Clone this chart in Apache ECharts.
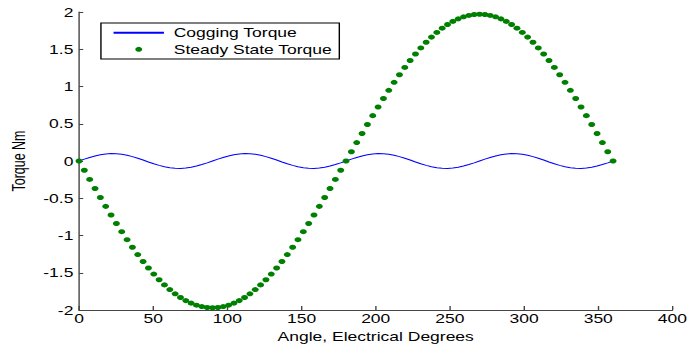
<!DOCTYPE html>
<html>
<head>
<meta charset="utf-8">
<script src="https://cdn.jsdelivr.net/npm/echarts@6/dist/echarts.min.js"></script>
<style>
  html, body { margin: 0; padding: 0; background: #fff; overflow: hidden; }
  /* The plot is laid out narrower and stretched horizontally, giving the wide lettering and oval markers */
  #chart { width: 491.43px; height: 345px; transform: scaleX(1.4); transform-origin: 0 0; }
</style>
</head>
<body>
<div id="chart"></div>
<script>
// Rotor angle in electrical degrees (sampled every 3.6 degrees)
var angles = [0,3.6,7.2,10.8,14.4,18,21.6,25.2,28.8,32.4,36,39.6,43.2,46.8,50.4,54,57.6,61.2,64.8,68.4,72,75.6,79.2,82.8,86.4,90,
  93.6,97.2,100.8,104.4,108,111.6,115.2,118.8,122.4,126,129.6,133.2,136.8,140.4,144,147.6,151.2,154.8,158.4,162,165.6,169.2,172.8,176.4,180,
  183.6,187.2,190.8,194.4,198,201.6,205.2,208.8,212.4,216,219.6,223.2,226.8,230.4,234,237.6,241.2,244.8,248.4,252,255.6,259.2,262.8,266.4,270,
  273.6,277.2,280.8,284.4,288,291.6,295.2,298.8,302.4,306,309.6,313.2,316.8,320.4,324,327.6,331.2,334.8,338.4,342,345.6,349.2,352.8,356.4,360];

// Cogging torque, Nm
var cogging = [
  0,0.025,0.048,0.068,0.084,0.095,0.100,0.098,0.090,0.077,0.059,0.037,0.013,-0.013,-0.037,-0.059,-0.077,-0.090,-0.098,-0.100,-0.095,-0.084,-0.068,-0.048,-0.025,
  0,0.025,0.048,0.068,0.084,0.095,0.100,0.098,0.090,0.077,0.059,0.037,0.013,-0.013,-0.037,-0.059,-0.077,-0.090,-0.098,-0.100,-0.095,-0.084,-0.068,-0.048,-0.025,
  0,0.025,0.048,0.068,0.084,0.095,0.100,0.098,0.090,0.077,0.059,0.037,0.013,-0.013,-0.037,-0.059,-0.077,-0.090,-0.098,-0.100,-0.095,-0.084,-0.068,-0.048,-0.025,
  0,0.025,0.048,0.068,0.084,0.095,0.100,0.098,0.090,0.077,0.059,0.037,0.013,-0.013,-0.037,-0.059,-0.077,-0.090,-0.098,-0.100,-0.095,-0.084,-0.068,-0.048,-0.025,
  0];

// Steady state torque, Nm
var steady = [
  0,-0.124,-0.247,-0.369,-0.490,-0.609,-0.725,-0.839,-0.949,-1.056,-1.158,-1.256,-1.349,-1.436,-1.518,-1.594,-1.663,-1.726,-1.783,-1.832,-1.874,-1.908,-1.935,-1.954,-1.966,-1.970,
  -1.966,-1.954,-1.935,-1.908,-1.874,-1.832,-1.783,-1.726,-1.663,-1.594,-1.518,-1.436,-1.349,-1.256,-1.158,-1.056,-0.949,-0.839,-0.725,-0.609,-0.490,-0.369,-0.247,-0.124,0,
  0.124,0.247,0.369,0.490,0.609,0.725,0.839,0.949,1.056,1.158,1.256,1.349,1.436,1.518,1.594,1.663,1.726,1.783,1.832,1.874,1.908,1.935,1.954,1.966,1.970,
  1.966,1.954,1.935,1.908,1.874,1.832,1.783,1.726,1.663,1.594,1.518,1.436,1.349,1.256,1.158,1.056,0.949,0.839,0.725,0.609,0.490,0.369,0.247,0.124,0];

var seriesNames = ['Cogging Torque', 'Steady State Torque'];
var xTitle = 'Angle, Electrical Degrees';
var yTitle = 'Torque Nm';

function pairs(xs, ys) {
  return xs.map(function (x, i) { return [x, ys[i]]; });
}

var font = "'Liberation Sans', Arial, sans-serif";
var axisColor = '#444';
var textColor = '#000';

var chart = echarts.init(document.getElementById('chart'), null, { renderer: 'svg' });
chart.setOption({
  animation: false,
  backgroundColor: '#fff',
  textStyle: { fontFamily: font },
  grid: { left: 56.43, right: 10.7, top: 12, bottom: 35, containLabel: false, outerBoundsMode: 'none' },
  legend: {
    orient: 'vertical',
    left: 72.1,
    top: 23,
    backgroundColor: '#fff',
    borderColor: '#000',
    borderWidth: 1,
    padding: [3.2, 5, 3.2, 8],
    itemGap: 3.6,
    itemWidth: 36,
    itemHeight: 5,
    textStyle: { fontFamily: font, fontSize: 12.5, lineHeight: 13, color: textColor, padding: [0, 0, 0, 2] },
    data: [
      // plain line key, no marker
      { name: seriesNames[0], itemStyle: { opacity: 0 } },
      { name: seriesNames[1] }
    ]
  },
  xAxis: {
    type: 'value',
    min: 0, max: 400, interval: 50,
    name: xTitle,
    nameLocation: 'middle',
    nameGap: 19,
    nameTextStyle: { fontFamily: font, fontSize: 12.5, color: textColor },
    axisLine: { show: true, onZero: false, lineStyle: { color: axisColor, width: 1 } },
    axisTick: { show: true, inside: true, length: 4, lineStyle: { color: axisColor } },
    axisLabel: { fontFamily: font, fontSize: 12.5, color: textColor, margin: 2 },
    splitLine: { show: false }
  },
  yAxis: {
    type: 'value',
    min: -2, max: 2, interval: 0.5,
    name: yTitle,
    nameLocation: 'middle',
    nameGap: 33,
    nameRotate: 90,
    nameTextStyle: { fontFamily: font, fontSize: 12.5, color: textColor },
    axisLine: { show: true, onZero: false, lineStyle: { color: axisColor, width: 1 } },
    axisTick: { show: true, inside: true, length: 3, lineStyle: { color: axisColor } },
    axisLabel: { fontFamily: font, fontSize: 12.5, color: textColor, margin: 4 },
    splitLine: { show: false }
  },
  series: [
    {
      name: seriesNames[0],
      type: 'line',
      data: pairs(angles, cogging),
      symbol: 'none',
      lineStyle: { color: '#0000ff', width: 1 },
      itemStyle: { color: '#0000ff' },
      z: 2
    },
    {
      name: seriesNames[1],
      type: 'scatter',
      data: pairs(angles, steady),
      symbol: 'circle',
      symbolSize: 5,
      itemStyle: { color: '#008000', opacity: 1 },
      z: 3
    }
  ]
});
</script>
</body>
</html>
